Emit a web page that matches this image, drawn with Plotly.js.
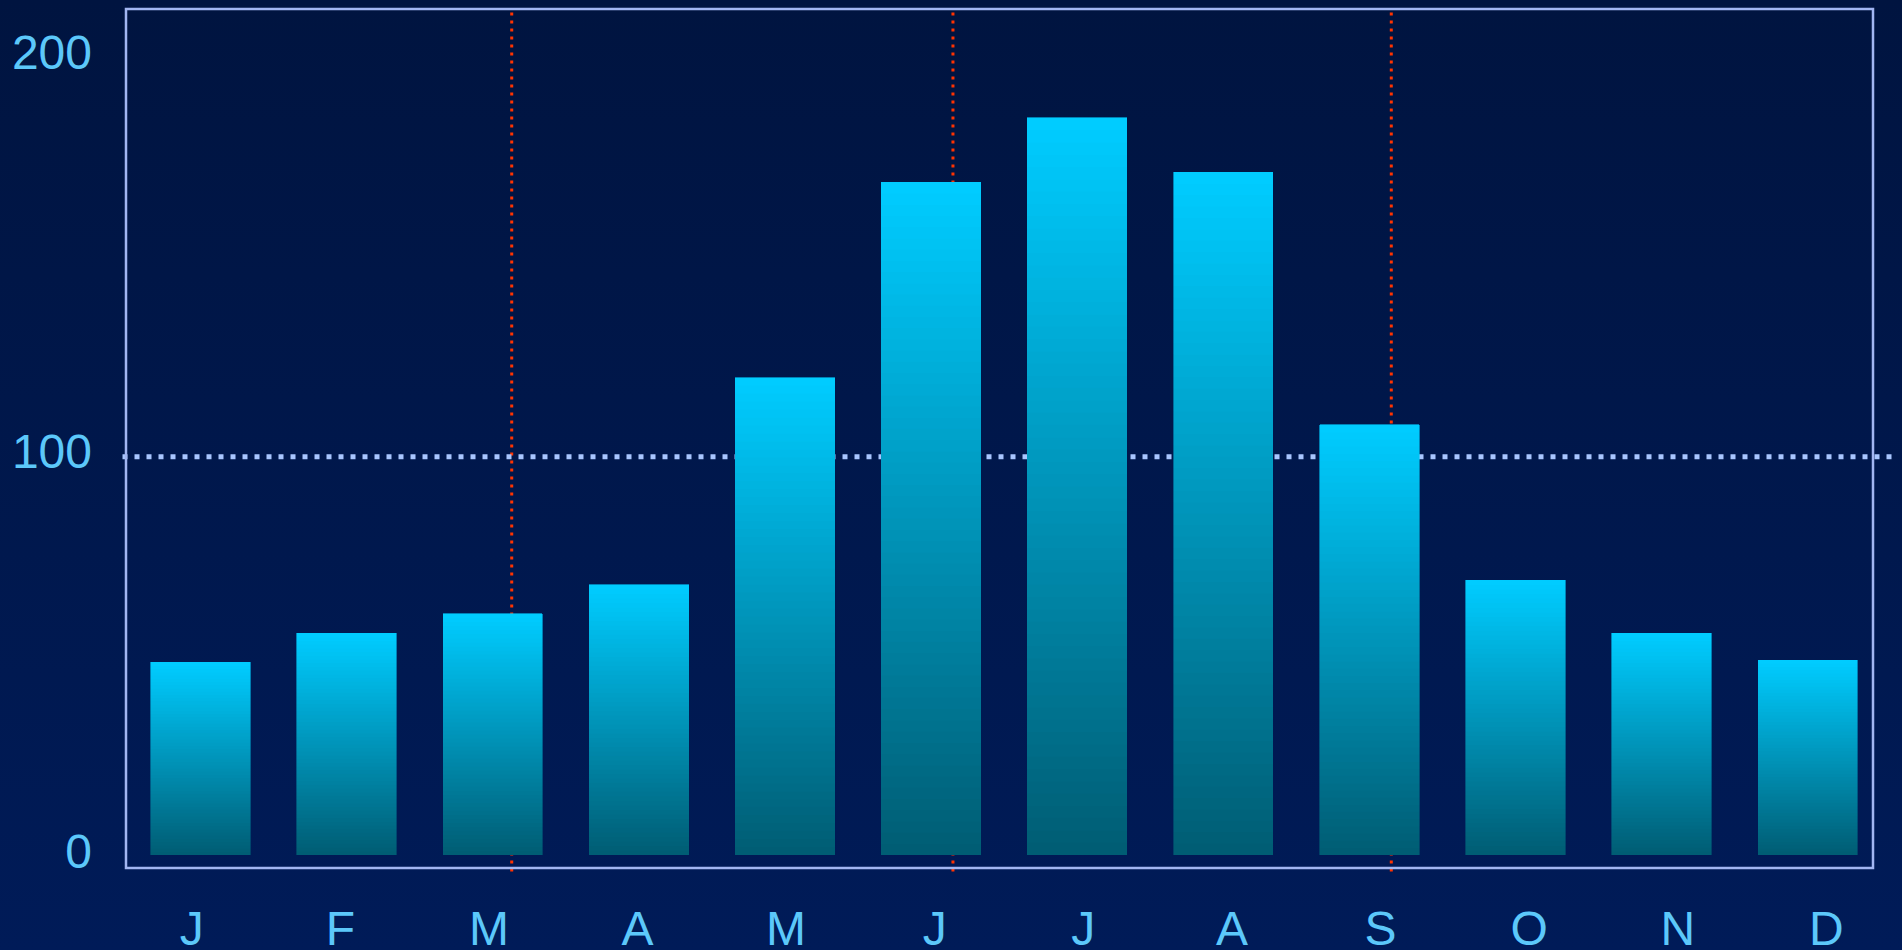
<!DOCTYPE html>
<html>
<head>
<meta charset="utf-8">
<script src="https://cdn.plot.ly/plotly-3.0.1.min.js"></script>
<style>
  html, body { margin: 0; padding: 0; width: 1902px; height: 950px; overflow: hidden;
    background: linear-gradient(to bottom, #001440 0%, #001b58 100%); }
  #chart { width: 1902px; height: 950px; }
</style>
</head>
<body>
<div id="chart"></div>
<script>
// ---- data ----
const monthLabels = ['J','F','M','A','M','J','J','A','S','O','N','D'];
const monthValues = [48.3, 55.6, 60.5, 67.8, 119.9, 169.0, 185.2, 171.5, 108.0, 69.0, 55.6, 48.9];
const yTickValues = [0, 100, 200];
const yTickLabels = ['0', '100', '200'];
const referenceLevel = 100;
const seasonMarks = [2.13, 5.15, 8.15]; // equinox / solstice markers (month index units)

// ---- gradient bars built by stacking thin slices of each bar ----
const N = 60;
const topRGB = [0, 204, 255];
const botRGB = [0, 93, 116];
function mix(t) {
  const c = botRGB.map((b, i) => Math.round(b + (topRGB[i] - b) * t));
  return 'rgb(' + c.join(',') + ')';
}
const xs = monthLabels.map((_, i) => i);
const traces = [];
for (let k = 0; k < N; k++) {
  const col = mix(k / (N - 1));
  traces.push({
    type: 'bar',
    x: xs,
    y: monthValues.map(v => v / N),
    marker: { color: col, line: { color: col, width: 0.6 } },
    hoverinfo: 'skip',
    showlegend: false
  });
}
// invisible trace carrying the label axes
traces.push({
  type: 'scatter', mode: 'markers', x: [xs[0]], y: [yTickValues[0]],
  xaxis: 'x2', yaxis: 'y2', marker: { opacity: 0 }, hoverinfo: 'skip', showlegend: false
});

const shapes = [];
seasonMarks.forEach(m => shapes.push({
  type: 'line', layer: 'below', xref: 'x', yref: 'paper',
  x0: m, x1: m, y0: -0.004, y1: 1,
  line: { color: '#ff3300', width: 3, dash: '3px,5px' }
}));
shapes.push({
  type: 'line', layer: 'below', xref: 'paper', yref: 'y',
  x0: -0.002, x1: 1.013, y0: referenceLevel, y1: referenceLevel,
  line: { color: '#a8c6ff', width: 5, dash: '5px,7px' }
});
shapes.push({
  type: 'rect', layer: 'above', xref: 'paper', yref: 'paper',
  x0: 0, x1: 1, y0: 0, y1: 1,
  line: { color: '#a2b6f2', width: 2.5 }
});

const tickFont = { family: 'Liberation Sans, Arial, sans-serif', size: 48, color: '#5cc8fa' };

const layout = {
  width: 1902, height: 950,
  margin: { l: 126, r: 29, t: 9, b: 82 },
  paper_bgcolor: 'rgba(0,0,0,0)',
  plot_bgcolor: 'rgba(0,0,0,0)',
  barmode: 'stack',
  bargap: 0.32,
  showlegend: false,
  xaxis: {
    range: [-0.51, 11.447],
    showticklabels: false,
    showgrid: false, zeroline: false, showline: false, ticks: '', fixedrange: true
  },
  yaxis: {
    range: [-3.34, 212.5],
    showticklabels: false,
    showgrid: false, zeroline: false, showline: false, ticks: '', fixedrange: true
  },
  xaxis2: {
    overlaying: 'x', side: 'bottom', anchor: 'y2',
    range: [-0.442, 11.314],
    tickmode: 'array', tickvals: xs, ticktext: monthLabels,
    showgrid: false, zeroline: false, showline: false, ticks: '',
    tickfont: tickFont, ticklabelstandoff: 28, fixedrange: true
  },
  yaxis2: {
    overlaying: 'y', side: 'left', anchor: 'x2',
    range: [-4.26, 210.76],
    tickmode: 'array', tickvals: yTickValues, ticktext: yTickLabels,
    showgrid: false, zeroline: false, showline: false, ticks: '',
    tickfont: tickFont, ticklabelstandoff: 33, fixedrange: true
  },
  shapes: shapes
};

Plotly.newPlot('chart', traces, layout, { displayModeBar: false, staticPlot: true });
</script>
</body>
</html>
